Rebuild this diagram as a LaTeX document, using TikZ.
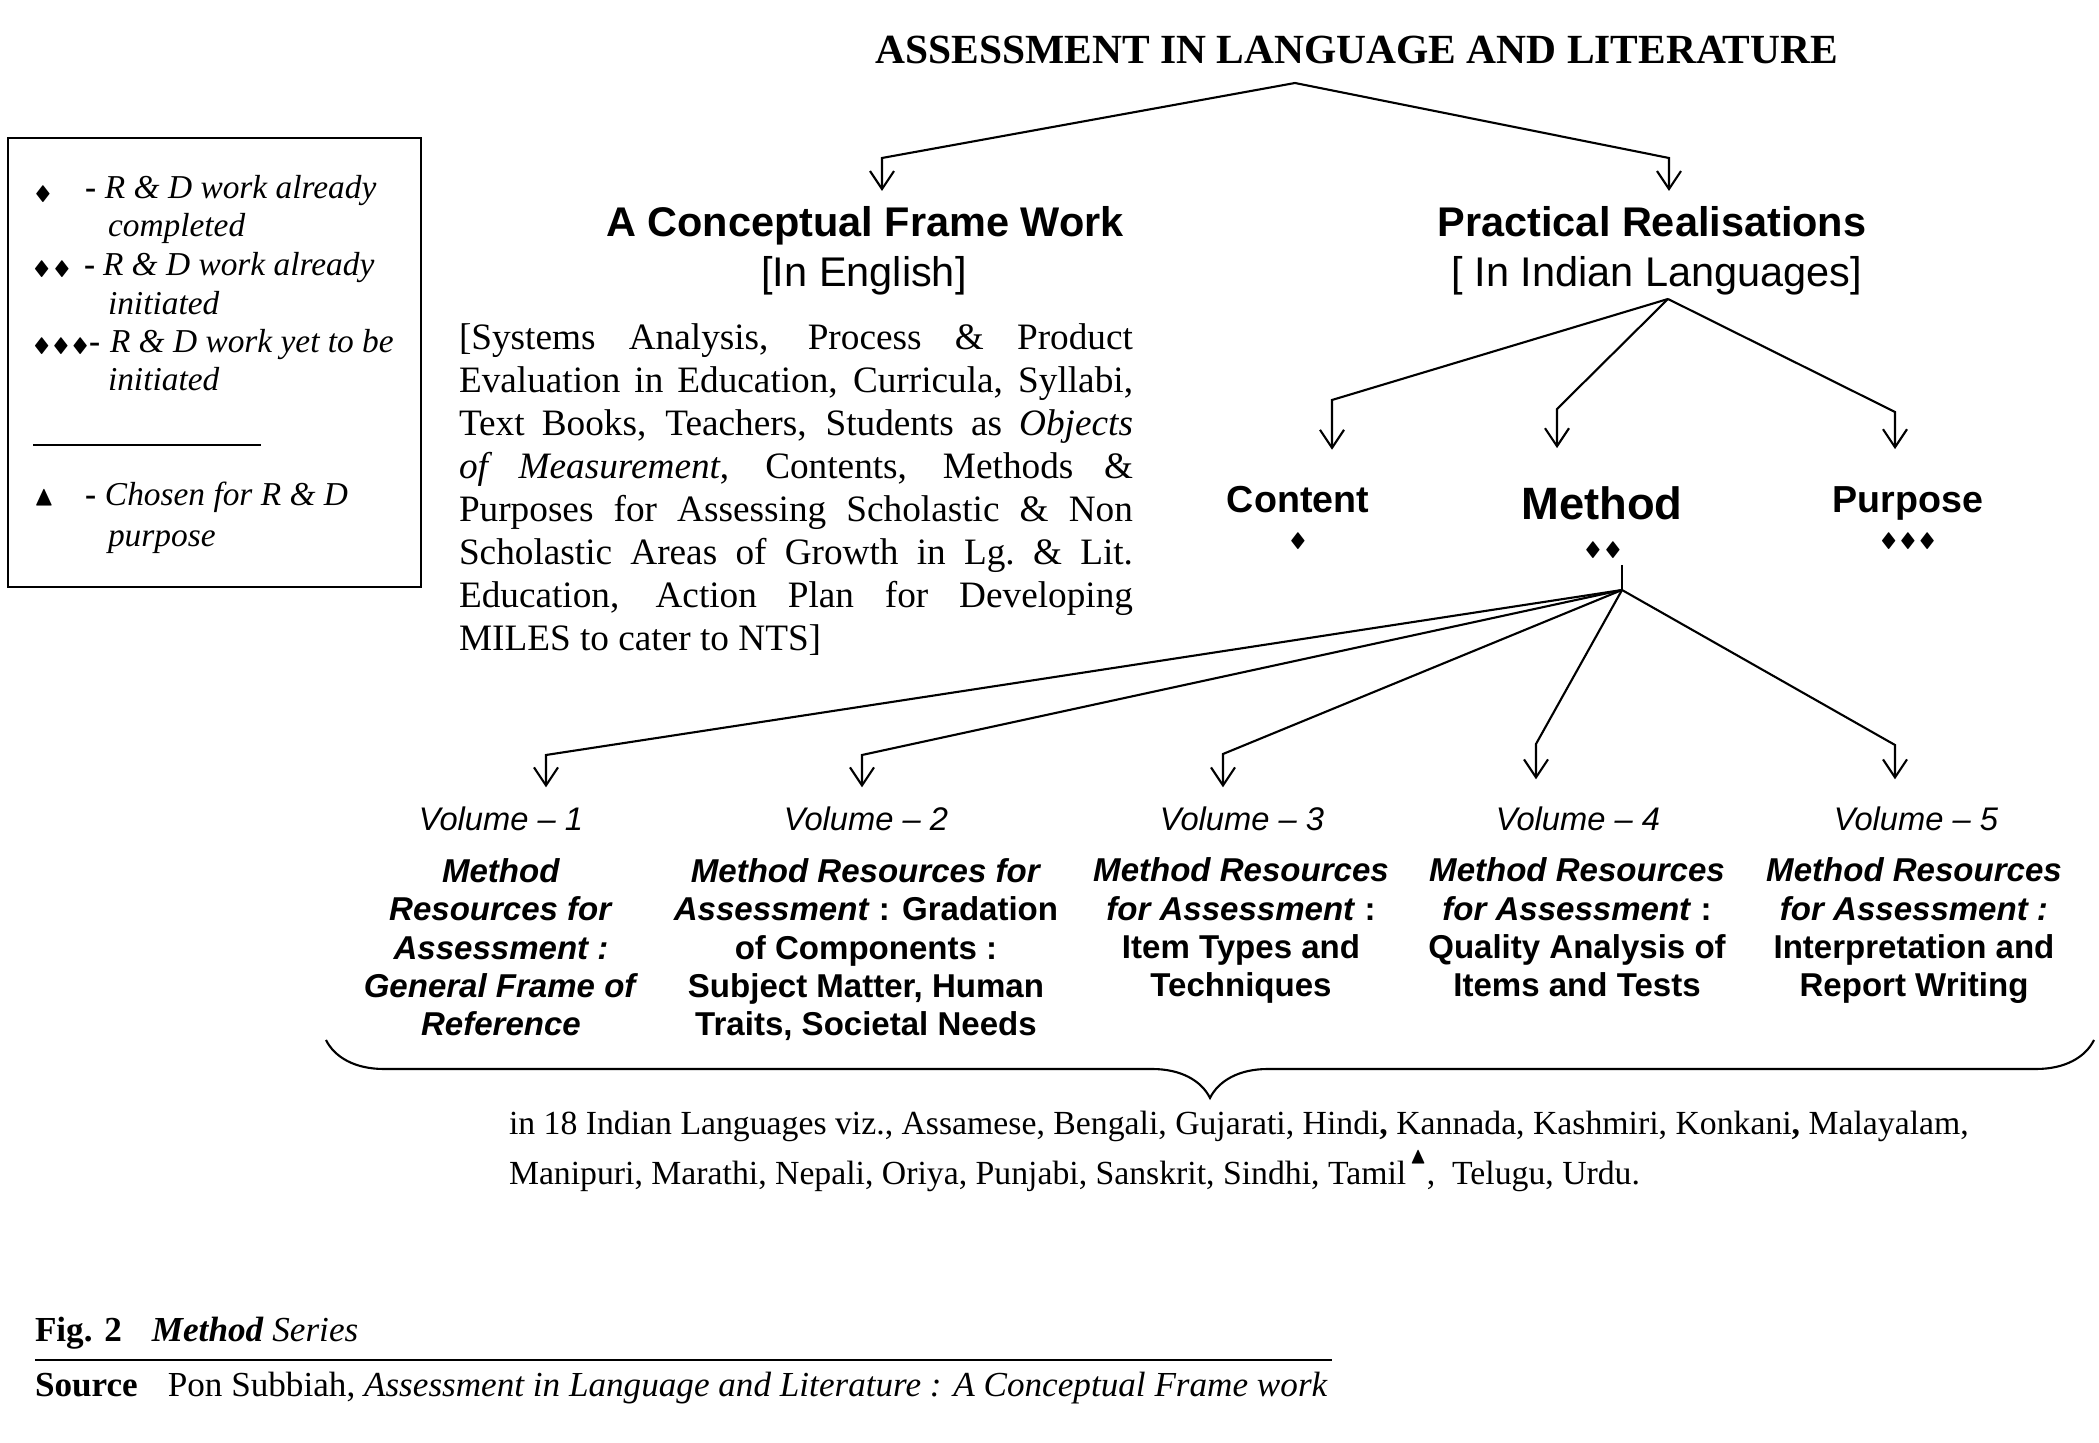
\documentclass[tikz,border=0pt]{standalone}
\usepackage{amsmath,amssymb}
\usepackage{fontspec}
\setmainfont{Liberation Serif}
\newfontfamily\hv[Ligatures=TeX]{Liberation Sans}
\usetikzlibrary{arrows.meta,calc,decorations.pathreplacing}
\newcommand\dmd{{\fontsize{5.5}{6}\selectfont$\blacklozenge$}}
\newcommand\pline[1]{\makebox[67.4mm][s]{#1}}

\begin{document}
\begin{tikzpicture}[x=0.1mm,y=-0.1mm,line width=0.6pt,
  every node/.style={inner sep=0pt,outer sep=0pt},
  arr/.style={-{Straight Barb[length=1.8mm,width=2.4mm]}},
  hd/.style={anchor=base,font=\hv\bfseries\fontsize{11.8}{14}\selectfont},
  sub/.style={anchor=base,font=\hv\fontsize{11.8}{14}\selectfont},
  lg/.style={anchor=base west,font=\itshape\fontsize{9.5}{10.5}\selectfont},
  lgd/.style={anchor=base west,font=\bfseries\fontsize{9.5}{10.5}\selectfont},
  part/.style={anchor=base,font=\hv\bfseries\fontsize{10.7}{12}\selectfont},
  vol/.style={anchor=base,font=\hv\itshape\fontsize{9.3}{10.8}\selectfont},
  res/.style={anchor=base,align=center,font=\hv\bfseries\fontsize{9.4}{10.95}\selectfont}]
\useasboundingbox (0,0) rectangle (2099,1443);

\node[anchor=base,font=\bfseries\fontsize{11.8}{14}\selectfont] (ttl) at (1357,64) {ASSESSMENT IN LANGUAGE AND LITERATURE};

\node[draw,line width=0.5pt,anchor=north west,minimum width=41.3mm,minimum height=44.9mm] (key) at (8,138) {};
\node (k1s) at (43,194) {\dmd};
\node[lgd] (k1d) at (85,199) {-};
\node[lg] (k1a) at (105,199) {R \& D work already};
\node[lg] (k1b) at (108,237) {completed};
\node (k2s) at (52,269) {\dmd\hspace{0.2mm}\dmd};
\node[lgd] (k2d) at (84,276) {-};
\node[lg] (k2a) at (103,276) {R \& D work already};
\node[lg] (k2b) at (108,315) {initiated};
\node (k3s) at (61,346) {\dmd\hspace{0.1mm}\dmd\hspace{0.1mm}\dmd};
\node[lgd] (k3d) at (89,353) {-};
\node[lg] (k3a) at (110,353) {R \& D work yet to be};
\node[lg] (k3b) at (108,391) {initiated};
\draw[line width=0.8pt] (33,445) -- (261,445);
\node (k4s) at (44,498) {\fontsize{8}{8}\selectfont$\blacktriangle$};
\node[lgd] (k4d) at (85,506) {-};
\node[lg] (k4a) at (105,506) {Chosen for R \& D};
\node[lg] (k4b) at (108,547) {purpose};

\node[hd] (cfw) at (865,237) {A Conceptual Frame Work};
\node[sub] (cfe) at (864,287) {[In English]};
\node[hd] (pr) at (1652,237) {Practical Realisations};
\node[sub] (pre) at (1657,287) {[ In Indian Languages]};

\node[anchor=base west,align=left,font=\fontsize{10.6}{12.27}\selectfont] (obj) at (459,651)
  {\pline{[Systems Analysis, Process \& Product}\\
   \pline{Evaluation in Education, Curricula, Syllabi,}\\
   \pline{Text Books, Teachers, Students as \textit{Objects}}\\
   \pline{\textit{of Measurement}, Contents, Methods \&}\\
   \pline{Purposes for Assessing Scholastic \& Non}\\
   \pline{Scholastic Areas of Growth in Lg.\ \& Lit.}\\
   \pline{Education, Action Plan for Developing}\\
   MILES to cater to NTS]};

\node[part] (con) at (1298,513) {Content};
\node[part,font=\hv\bfseries\fontsize{12.9}{14}\selectfont] (met) at (1602,520) {Method};
\node[part] (pur) at (1908,513) {Purpose};
\node (cond) at (1298,541) {\dmd};
\node (metd) at (1603,550) {\dmd\hspace{0.2mm}\dmd};
\node (purd) at (1908,541) {\dmd\hspace{0.1mm}\dmd\hspace{0.1mm}\dmd};

\coordinate (ta) at (1295,83);
\coordinate (tl) at (882,158);
\coordinate (tr) at (1669,158);
\draw[arr,shorten >=1.6mm] (ta) -- (tl) -- (tl |- cfw.north);
\draw[arr,shorten >=1.6mm] (ta) -- (tr) -- (tr |- pr.north);

\coordinate (pa) at (1668,299);
\coordinate (pc) at (1332,400);
\coordinate (pm) at (1557,409);
\coordinate (pp) at (1895,412);
\draw[arr,shorten >=3.7mm] (pa) -- (pc) -- (pc |- con.north);
\draw[arr,shorten >=3.9mm] (pa) -- (pm) -- (pm |- met.north);
\draw[arr,shorten >=3.8mm] (pa) -- (pp) -- (pp |- pur.north);

\node[vol] (v1) at (501,831) {Volume -- 1};
\node[vol] (v2) at (866,831) {Volume -- 2};
\node[vol] (v3) at (1242,831) {Volume -- 3};
\node[vol] (v4) at (1578,831) {Volume -- 4};
\node[vol] (v5) at (1916,831) {Volume -- 5};

\node[res] (b1) at (501,1036) {\textit{Method}\\\textit{Resources for}\\\textit{Assessment :}\\\textit{General Frame of}\\\textit{Reference}};
\node[res] (b2) at (866,1036) {\textit{Method Resources for}\\\textit{Assessment} : Gradation\\of Components :\\Subject Matter, Human\\Traits, Societal Needs};
\node[res] (b3) at (1241,997) {\textit{Method Resources}\\\textit{for Assessment} :\\Item Types and\\Techniques};
\node[res] (b4) at (1577,997) {\textit{Method Resources}\\\textit{for Assessment} :\\Quality Analysis of\\Items and Tests};
\node[res] (b5) at (1914,997) {\textit{Method Resources}\\\textit{for Assessment :}\\Interpretation and\\Report Writing};

\coordinate (ms) at (1622,565);
\coordinate (ma) at (1622,590);
\draw[line width=0.4pt] (ms) -- (ma);
\coordinate (m1) at (546,755);
\coordinate (m2) at (862,755);
\coordinate (m3) at (1223,754);
\coordinate (m4) at (1536,744);
\coordinate (m5) at (1895,745);
\draw[arr,shorten >=2mm] (ma) -- (m1) -- (m1 |- v1.north);
\draw[arr,shorten >=2mm] (ma) -- (m2) -- (m2 |- v2.north);
\draw[arr,shorten >=2mm] (ma) -- (m3) -- (m3 |- v3.north);
\draw[arr,shorten >=2.8mm] (ma) -- (m4) -- (m4 |- v4.north);
\draw[arr,shorten >=2.8mm] (ma) -- (m5) -- (m5 |- v5.north);

\coordinate (bra) at (326,1040);
\coordinate (brb) at (2094,1040);
\draw[decorate,decoration={brace,amplitude=5.8mm}] (brb) -- (bra);

\node[anchor=base west,align=left,font=\fontsize{9.6}{14.5}\selectfont] (lang) at (509,1185)
  {in 18 Indian Languages viz., Assamese, Bengali, Gujarati, Hindi\textbf{,} Kannada, Kashmiri, Konkani\textbf{,} Malayalam,\\
   Manipuri, Marathi, Nepali, Oriya, Punjabi, Sanskrit, Sindhi, Tamil\hspace{0.3mm}\smash{\raisebox{6pt}{\fontsize{6.5}{7}\selectfont$\blacktriangle$}},\ \ Telugu, Urdu.};

\node[anchor=base west,font=\fontsize{10}{12}\selectfont] (fig) at (35,1342) {\textbf{Fig. 2}\hspace{3mm}\textbf{\textit{Method}} \textit{Series}};
\draw (35,1360) -- (1332,1360);
\node[anchor=base west,font=\fontsize{10}{12}\selectfont] (src) at (35,1396) {\textbf{Source}\hspace{3mm}Pon Subbiah, \textit{Assessment in Language and Literature : A Conceptual Frame work}};
\end{tikzpicture}
\end{document}
